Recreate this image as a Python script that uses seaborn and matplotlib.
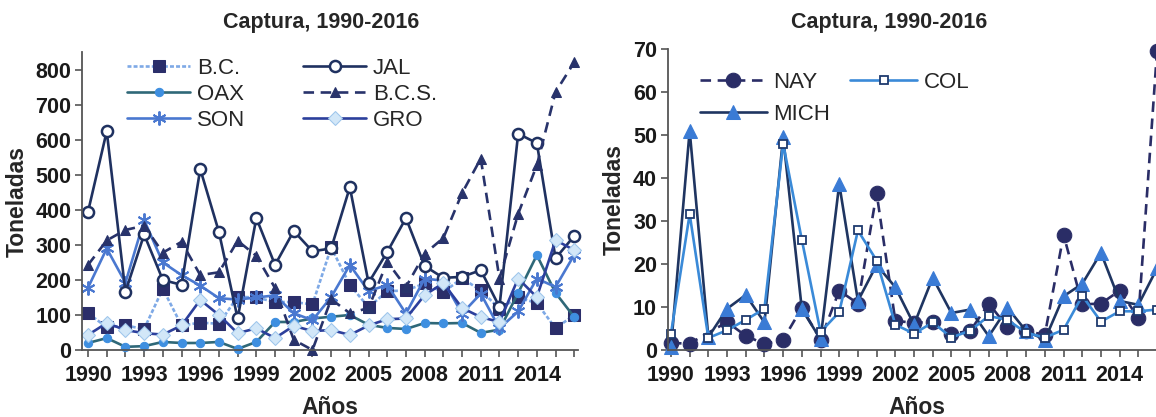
import numpy as np
import pandas as pd
import seaborn as sns
import matplotlib.pyplot as plt

## Data
years = list(range(1990, 2017))

# left panel (toneladas)
bc  = [105, 65, 70, 60, 175, 70, 78, 75, 152, 150, 137, 137, 130, 293, 186, 122, 168, 170, 190, 165, 205, 170, 118, 150, 134, 62, 100]
jal = [395, 625, 166, 330, 200, 186, 517, 337, 90, 377, 243, 340, 282, 290, 465, 192, 280, 377, 240, 206, 209, 228, 123, 618, 591, 262, 326]
oax = [20, 34, 9, 11, 23, 20, 20, 23, 3, 23, 80, 80, 90, 95, 100, 72, 63, 60, 77, 76, 77, 49, 58, 163, 271, 163, 94]
bcs = [243, 313, 343, 355, 278, 309, 214, 222, 312, 269, 177, 29, 0, 145, 105, 120, 252, 180, 275, 320, 448, 547, 204, 389, 528, 737, 822]
son = [178, 290, 192, 371, 250, 214, 184, 148, 144, 150, 156, 105, 85, 151, 243, 168, 186, 104, 204, 198, 104, 161, 62, 110, 204, 180, 272]
gro = [43, 77, 57, 48, 44, 70, 143, 100, 48, 62, 34, 69, 54, 57, 43, 70, 88, 90, 157, 191, 120, 94, 80, 204, 151, 314, 285]

# right panel (toneladas)
nay  = [1.6, 1.5, np.nan, 6.5, 3.3, 1.4, 2.4, 9.8, 2.4, 13.8, 10.8, 36.5, 6.8, 6.3, 6.6, 3.8, 4.4, 10.8, 5.3, 4.3, 3.6, 26.8, 10.6, 10.8, 13.8, 7.5, 69.6]
col  = [3.8, 31.6, 2.8, 4.6, 7.0, 9.6, 48.0, 25.6, 4.2, 8.8, 27.8, 20.8, 5.9, 3.8, 6.4, 2.9, 4.5, 7.9, 7.0, 4.0, 2.9, 4.7, 12.6, 6.6, 9.0, 9.0, 9.4]
mich = [0.6, 51.0, 3.0, 9.6, 12.8, 6.4, 49.5, 9.5, 2.5, 38.6, 11.4, 19.8, 14.6, 5.9, 16.8, 8.6, 9.4, 3.2, 9.8, 4.4, 2.4, 12.5, 15.4, 22.6, 11.4, 10.5, 19.0]

left_ticks = list(range(0, 801, 100))
right_ticks = list(range(0, 71, 10))
year_labels = [str(y) if (y - 1990) % 3 == 0 and y < 2016 else '' for y in years]

## Styling
sns.set_style('white')
plt.rcParams['font.family'] = ['Liberation Sans', 'DejaVu Sans']

left_series = [
    ('B.C.', bc, dict(color='#7ea9e6', linestyle=(0, (1.5, 0.8)), marker='s', markersize=8.5,
                      markerfacecolor='#2b2e6a', markeredgecolor='#2b2e6a')),
    ('OAX', oax, dict(color='#2f6878', linestyle='-', marker='o', markersize=6,
                      markerfacecolor='#3f8fe0', markeredgecolor='#3f8fe0')),
    ('SON', son, dict(color='#4a78d0', linestyle='-', marker=(6, 2, 0), markersize=10,
                      markerfacecolor='#4a78d0', markeredgecolor='#4a78d0', mew=1.4)),
    ('JAL', jal, dict(color='#1f3160', linestyle='-', marker='o', markersize=8,
                      markerfacecolor='white', markeredgecolor='#1f3160', mew=1.8)),
    ('B.C.S.', bcs, dict(color='#28336b', linestyle=(0, (4, 2.5)), marker='^', markersize=6.5,
                         markerfacecolor='#28336b', markeredgecolor='#28336b')),
    ('GRO', gro, dict(color='#2c3f9c', linestyle='-', marker='D', markersize=7,
                      markerfacecolor='#d2e7f8', markeredgecolor='#9ec6ec')),
]
right_series = [
    ('NAY', nay, dict(color='#2a2d66', linestyle=(0, (4, 2.5)), marker='o', markersize=10.5,
                      markerfacecolor='#2a2d66', markeredgecolor='#2a2d66')),
    ('MICH', mich, dict(color='#1f3561', linestyle='-', marker='^', markersize=9.5,
                        markerfacecolor='#3a7bd5', markeredgecolor='#3a7bd5')),
    ('COL', col, dict(color='#3a8ad8', linestyle='-', marker='s', markersize=5.5,
                      markerfacecolor='white', markeredgecolor='#1f3a6e', mew=1.3)),
]

fig = plt.figure(figsize=(11.56, 4.17), dpi=100)
ax1 = fig.add_axes([0.0713, 0.1607, 0.4287, 0.7135])
ax2 = fig.add_axes([0.578, 0.1607, 0.431, 0.7218])

for ax, series in [(ax1, left_series), (ax2, right_series)]:
    for name, vals, kw in series:
        sns.lineplot(x=years, y=vals, ax=ax, label=name, linewidth=1.9,
                     clip_on=False, **kw)

tick_font = dict(fontsize=15.5, fontweight='bold', color='#1a1a1a')

ax1.set_xlim(1989.7, 2016.2)
ax1.set_ylim(0, 850)
ax1.set_yticks(left_ticks)
ax2.set_xlim(1989.85, 2016.5)
ax2.set_ylim(0, 70)
ax2.set_yticks(right_ticks)

for ax in (ax1, ax2):
    ax.set_xticks(years)
    ax.set_xticklabels(year_labels, **tick_font)
    ax.set_yticklabels([str(t) for t in ax.get_yticks().astype(int)], **tick_font)
    for s in ['top', 'right']:
        ax.spines[s].set_visible(False)
    for s in ['left', 'bottom']:
        ax.spines[s].set_color('#555555')
        ax.spines[s].set_linewidth(1.3)
    ax.tick_params(axis='both', direction='out', length=5, width=1.2, color='#555555',
                   bottom=True, left=True)
    ax.tick_params(axis='x', pad=6)
    ax.tick_params(axis='y', pad=3)
    ax.set_ylabel('Toneladas', fontsize=16.5, fontweight='bold', labelpad=5)
    ax.set_xlabel('Años', fontsize=16.5, fontweight='bold', labelpad=7)

fig.text(321 / 1156, 0.947, 'Captura, 1990-2016', ha='center', va='center',
         fontsize=15.5, fontweight='bold')
fig.text(889 / 1156, 0.947, 'Captura, 1990-2016', ha='center', va='center',
         fontsize=15.5, fontweight='bold')

ax1.legend(ncol=2, frameon=False, loc='upper left', bbox_to_anchor=(127 / 1156, 1 - 58 / 417),
           bbox_transform=fig.transFigure, fontsize=16, handlelength=2.85, handletextpad=0.3,
           columnspacing=2.6, labelspacing=0.22, borderpad=0, borderaxespad=0)
ax2.legend(ncol=2, frameon=False, loc='upper left', bbox_to_anchor=(700 / 1156, 1 - 72 / 417),
           bbox_transform=fig.transFigure, fontsize=16, handlelength=3.0, handletextpad=0.3,
           columnspacing=0.9, labelspacing=0.5, borderpad=0, borderaxespad=0)

fig.savefig('out.png', dpi=100)
